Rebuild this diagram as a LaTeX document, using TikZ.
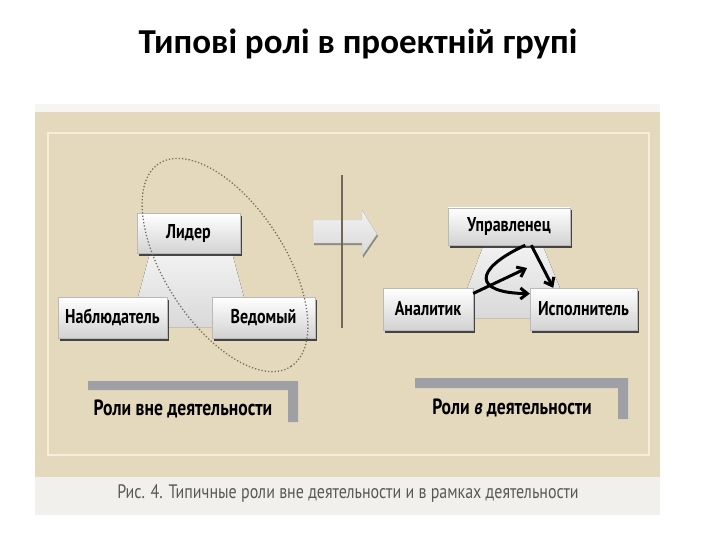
\documentclass[tikz,border=0pt]{standalone}
\usepackage{fontspec}
\setmainfont{Carlito}
\newfontfamily\condfont[FakeStretch=0.8]{PT Sans}
\newfontfamily\capfont[FakeStretch=0.82]{PT Sans}
\usetikzlibrary{shadows,arrows.meta}
\definecolor{paper}{RGB}{229,217,189}
\definecolor{frameline}{RGB}{246,238,218}
\definecolor{capstrip}{RGB}{242,240,236}
\definecolor{barcol}{RGB}{158,160,166}
\definecolor{divcol}{RGB}{112,102,90}
\definecolor{ovalcol}{RGB}{120,110,95}

\begin{document}
\begin{tikzpicture}[
        x=1pt, y=-1pt,
        role/.style = {draw=gray!55, top color=white, bottom color=gray!35, inner sep=0pt,
            font=\condfont\bfseries\fontsize{20}{20}\selectfont,
            drop shadow={shadow xshift=1.5pt, shadow yshift=-2.5pt, fill=black!80, opacity=0.9}},
        link/.style = {line width=3pt, -{Straight Barb[length=7pt,width=11pt]}},
        legend/.style = {font=\condfont\bfseries\fontsize{22}{22}\selectfont},
        wedge/.style = {top color=white!90!gray, bottom color=gray!30}
    ]
    \useasboundingbox (0,0) rectangle (720,540);
    \fill[white] (0,0) rectangle (720,540);
    \node (title) at (358,44) {\bfseries\fontsize{35}{35}\selectfont Типові ролі в проектній групі};

    % scanned page
    \fill[capstrip!70!white] (35,104) rectangle (660,112);
    \fill[paper] (35,112) rectangle (660,477);
    \fill[capstrip] (35,477) rectangle (660,515);
    \draw[frameline, line width=1.5pt] (48,133) rectangle (649,455);
    \node[text=black!65, font=\capfont\fontsize{19.5}{19.5}\selectfont] (caption) at (348,494)
        {Рис. 4. Типичные роли вне деятельности и в рамках деятельности};

    % left part
    \fill[wedge] (150,253) -- (232,253) -- (252,327) -- (130,327) -- cycle;
    \node[role, minimum width=103pt, minimum height=40pt] (lider) at (188.5,233.5) {Лидер};
    \node[role, minimum width=109pt, minimum height=41pt] (nabl) at (112.5,317.5) {Наблюдатель};
    \node[role, minimum width=103pt, minimum height=41pt] (vedom) at (263.5,317.5) {Ведомый};
    \draw[ovalcol, dotted, line width=1.3pt, rotate around={-57:(225,265)}]
        (225,265) ellipse [x radius=121pt, y radius=60pt];

    % arrow and divider
    \path[wedge, draw=gray!50, drop shadow={shadow xshift=1pt, shadow yshift=-2pt, fill=black!60, opacity=0.7}]
        (313,220) -- (362,220) -- (362,210) -- (377,234) -- (362,256) -- (362,243) -- (313,243) -- cycle;
    \draw[divcol, line width=2.5pt] (342,175) -- (342,328);

    % right part
    \fill[wedge] (484,244) -- (542,244) -- (572,318) -- (456,318) -- cycle;
    \node[role, minimum width=122pt, minimum height=37pt] (upr) at (509,226.5) {Управленец};
    \node[role, minimum width=90pt, minimum height=42pt] (anal) at (428,309) {Аналитик};
    \node[role, minimum width=107pt, minimum height=42pt] (ispol) at (583.5,309) {Исполнитель};
    \coordinate (hit) at (527,268);
    \draw[link] (upr.-40) -- (ispol.145);
    \draw[link] (upr.-49) .. controls (472,270) and (474,293) .. (ispol.164);
    \draw[link] (anal.19) -- (hit);

    % legend
    \fill[barcol] (88,381) -- (298,381) -- (298,422) -- (288,422) -- (288,390) -- (88,390) -- cycle;
    \node[legend] (legL) at (183,409) {Роли вне деятельности};
    \fill[barcol] (415,378) -- (628,378) -- (628,419) -- (618,419) -- (618,388) -- (415,388) -- cycle;
    \node[legend] (legR) at (512,408) {Роли \textit{в} деятельности};
\end{tikzpicture}
\end{document}
